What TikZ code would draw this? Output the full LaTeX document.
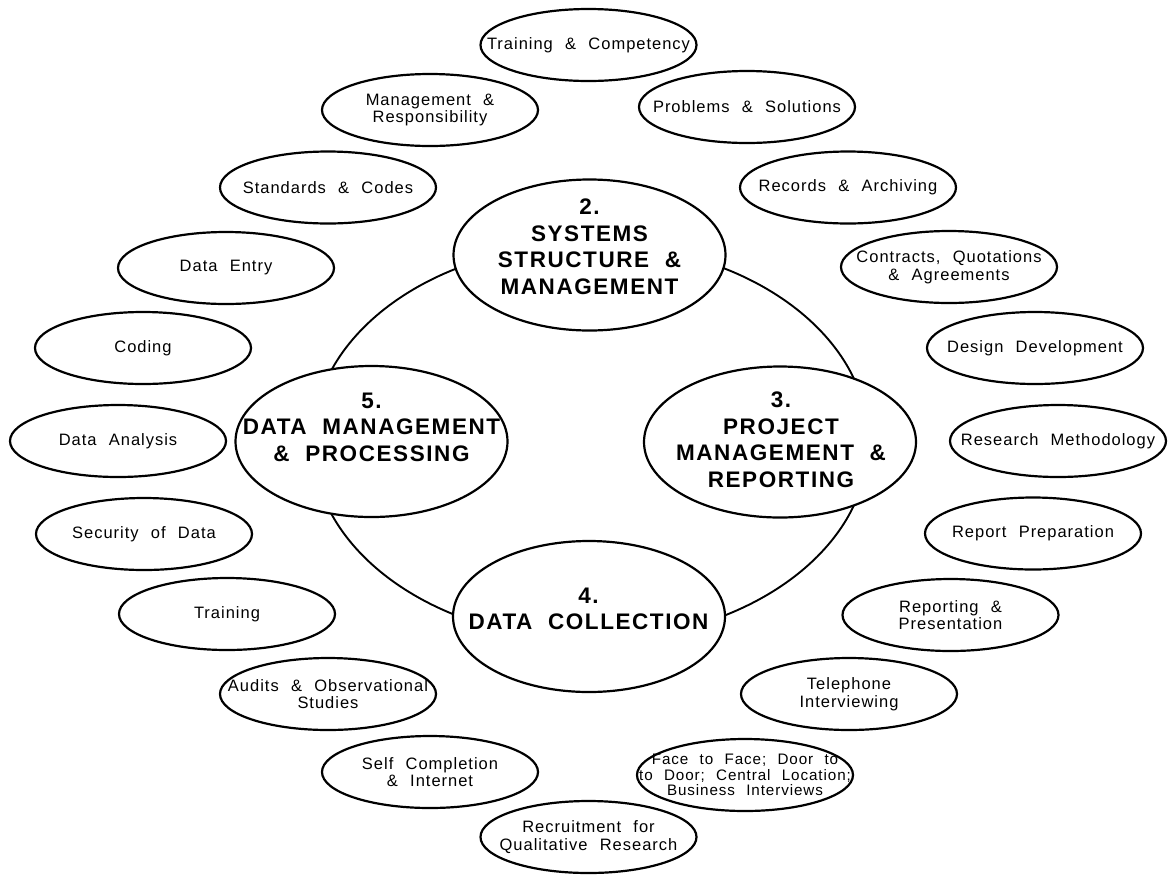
\documentclass[tikz,border=0pt]{standalone}
\usepackage{fontspec}
\usetikzlibrary{shapes.geometric}
\newfontfamily\lblfont[LetterSpace=6,WordSpace=2.2]{Liberation Sans}
\newfontfamily\hdfont[LetterSpace=7,WordSpace=2]{Liberation Sans}

% a topic bubble: outline node plus its centred caption
\newcommand\leafnode[3]{%
  \node[leaf] (#1) at (#2) {};
  \node[leaftext] (#1-text) at (#1) {#3};}

\begin{document}
\begin{tikzpicture}[x=1pt,y=-1pt,
  ring/.style={ellipse, draw, line width=1.9pt, inner sep=0pt,
    minimum width=556pt, minimum height=396pt},
  hub/.style={ellipse, draw, line width=2.2pt, fill=white, inner sep=0pt,
    minimum width=272pt, minimum height=151pt},
  hubtext/.style={font=\hdfont\bfseries\fontsize{22.5}{26.5}\selectfont,
    align=center, inner sep=0pt},
  leaf/.style={ellipse, draw, line width=2.2pt, fill=white, inner sep=0pt,
    minimum width=216pt, minimum height=72pt},
  leaftext/.style={font=\lblfont\fontsize{16.5}{17.5}\selectfont,
    align=center, inner sep=0pt},
  smalltext/.style={font=\lblfont\fontsize{15.2}{15.5}\selectfont}]

\useasboundingbox (0,0) rectangle (1175,876);

% ring joining the four main areas
\node[ring] (ring) at (590.5,442) {};

% main areas
\node[hub] (sys) at (589.5,255) {};
\node[hubtext] (sys-text) at (589.5,246.5) {2.\\SYSTEMS\\STRUCTURE \&\\MANAGEMENT};
\node[hub] (proj) at (780,442) {};
\node[hubtext] (proj-text) at (781,439.5) {3.\\PROJECT\\MANAGEMENT \&\\REPORTING};
\node[hub] (coll) at (589,616.5) {};
\node[hubtext] (coll-text) at (588.5,609) {4.\\DATA COLLECTION};
\node[hub] (proc) at (371.5,441.5) {};
\node[hubtext] (proc-text) at (371.5,427) {5.\\DATA MANAGEMENT\\\& PROCESSING};

% surrounding topics
\leafnode{train}{588.5,45}{Training \& Competency}
\leafnode{mgmt}{430,110}{Management \&\\Responsibility}
\leafnode{probs}{747,107}{Problems \& Solutions}
\leafnode{stds}{328,187.5}{Standards \& Codes}
\leafnode{recs}{848,187.5}{Records \& Archiving}
\leafnode{entry}{226,268}{Data Entry}
\leafnode{contr}{949,267}{Contracts, Quotations\\\& Agreements}
\leafnode{coding}{143,348}{Coding}
\leafnode{design}{1035,348}{Design Development}
\leafnode{anal}{118,441}{Data Analysis}
\leafnode{meth}{1058,441}{Research Methodology}
\leafnode{secur}{144,534}{Security of Data}
\leafnode{prep}{1033,533.5}{Report Preparation}
\leafnode{trainb}{227,614}{Training}
\leafnode{pres}{950.5,615}{Reporting \&\\Presentation}
\leafnode{audit}{328,694}{Audits \& Observational\\Studies}
\leafnode{phone}{849,694}{Telephone\\Interviewing}
\leafnode{self}{430,772}{Self Completion\\\& Internet}
\node[leaf] (face) at (745,775) {};
\node[leaftext, smalltext] (face-text) at (face)
  {Face to Face; Door to\\to Door; Central Location;\\Business Interviews};
\leafnode{recruit}{588.5,837}{Recruitment for\\Qualitative Research}
\end{tikzpicture}
\end{document}
